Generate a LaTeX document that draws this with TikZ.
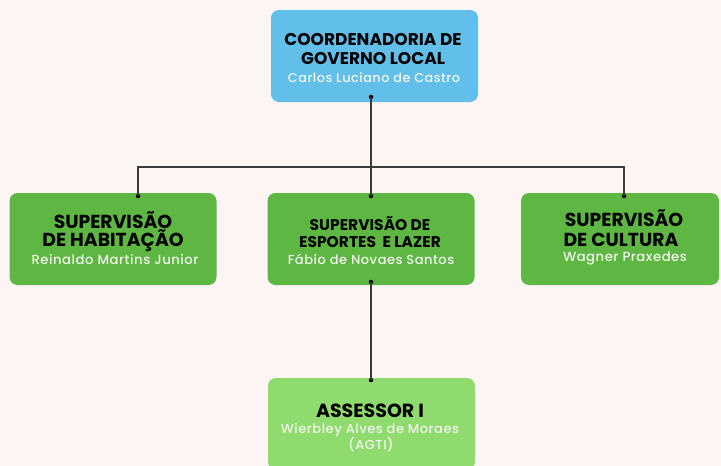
\documentclass[tikz,border=0pt]{standalone}
\usepackage{fontspec}
\setmainfont{Poppins}[UprightFont=* Medium]
\newfontfamily\titlefont{Poppins}[UprightFont=* Bold]
\definecolor{bg}{HTML}{FDF5F3}
\definecolor{topblue}{HTML}{62BFEA}
\definecolor{midgreen}{HTML}{5DB742}
\definecolor{lightgreen}{HTML}{8FDB6E}
\definecolor{namewhite}{HTML}{F2F8EE}
\definecolor{line}{HTML}{3A3A3A}
\tikzset{
  box/.style={draw=none, rounded corners=8pt, minimum width=207pt, minimum height=92pt, inner sep=0pt},
  ttl/.style={font=\titlefont\fontsize{#1}{#1}\selectfont, text=black, inner sep=0pt},
  nm/.style={font=\fontsize{#1}{#1}\selectfont\addfontfeatures{LetterSpace=4}, text=namewhite, inner sep=0pt},
  conn/.style={draw=line, line width=1.1pt},
  dotc/.style={circle, fill=black, inner sep=0pt, minimum size=4.5pt}
}
\begin{document}
\begin{tikzpicture}[x=1pt,y=-1pt]
\fill[bg] (0,0) rectangle (721,466);
\useasboundingbox (0,0) rectangle (721,466);
% boxes
\node[box, fill=topblue] (top) at (374.5,56) {};
\node[box, fill=midgreen] (left) at (113,239) {};
\node[box, fill=midgreen] (mid) at (371,239) {};
\node[box, fill=midgreen, minimum width=198pt] (right) at (620,239) {};
\node[box, fill=lightgreen] (bot) at (371.5,424) {};
% texts top
\node[ttl=17] (t1) at (373,40) {COORDENADORIA DE};
\node[ttl=17] (t2) at (373,58.5) {GOVERNO LOCAL};
\node[nm=12.8] (t3) at (374,78) {Carlos Luciano de Castro};
% left
\node[ttl=18.8] (l1) at (113,220) {SUPERVISÃO};
\node[ttl=18.8] (l2) at (113,241) {DE HABITAÇÃO};
\node[nm=13.2] (l3) at (115,259) {Reinaldo Martins Junior};
% mid
\node[ttl=15.5] (m1) at (370,224) {SUPERVISÃO DE};
\node[ttl=15.5] (m2) at (370,242) {ESPORTES\ \ E LAZER};
\node[nm=13] (m3) at (371,259) {Fábio de Novaes Santos};
% right
\node[ttl=18.8] (r1) at (624,218) {SUPERVISÃO};
\node[ttl=18.8] (r2) at (621,240) {DE CULTURA};
\node[nm=13.2] (r3) at (625,258) {Wagner Praxedes};
% bottom
\node[ttl=19] (b1) at (370,411) {ASSESSOR I};
\node[nm=13] (b2) at (370,430) {Wierbley Alves de Moraes};
\node[nm=13] (b3) at (371,445) {(AGTI)};
% connector points
\node[dotc] (dtop) at (371,97) {};
\node[dotc] (dl) at (138,196) {};
\node[dotc] (dm) at (371,196) {};
\node[dotc] (dr) at (624,196) {};
\node[dotc] (dmb) at (371,282) {};
\node[dotc] (db) at (371,380) {};
\coordinate (hub) at (371,167);
\draw[conn] (dtop.center) -- (hub);
\draw[conn] (dl.center) |- (hub) -| (dr.center);
\draw[conn] (hub) -- (dm.center);
\draw[conn] (dmb.center) -- (db.center);
\end{tikzpicture}
\end{document}
